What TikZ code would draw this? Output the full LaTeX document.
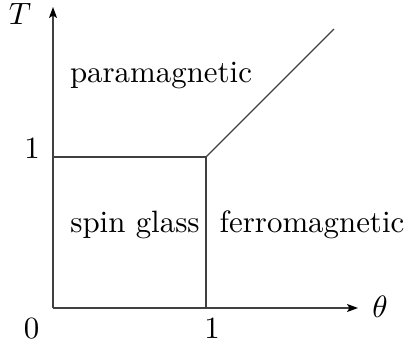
\documentclass[tikz,border=0pt]{standalone}
\usetikzlibrary{arrows.meta}
\begin{document}
\begin{tikzpicture}[x=1bp,y=-1bp,
  lbl/.style={anchor=base,scale=3.1,inner sep=0pt},
  ln/.style={line width=1.2bp,draw=black!75},
  axis/.style={ln,-{Stealth[length=11bp,width=8bp,inset=2.5bp,color=black]}}]
\useasboundingbox (0,0) rectangle (409,347);
\coordinate (O) at (53,308);
\coordinate (Ytop) at (53,7);
\coordinate (Xend) at (358,308);
\coordinate (C) at (206,157);
\coordinate (L) at (53,157);
\coordinate (B) at (206,308);
\coordinate (D) at (334,29);
\draw[axis] (O) -- (Ytop);
\draw[axis] (O) -- (Xend);
\draw[ln] (L) -- (C) -- (B);
\draw[ln] (C) -- (D);
\node[lbl] (T) at (20,24) {$T$};
\node[lbl] (th) at (380,317) {$\theta$};
\node[lbl] (zero) at (31.5,338) {0};
\node[lbl] (onex) at (212,338) {1};
\node[lbl] (oney) at (32,158) {1};
\node[lbl] (para) at (161,82) {paramagnetic};
\node[lbl] (sg) at (135,232) {spin glass};
\node[lbl] (ferro) at (312,232) {ferromagnetic};
\end{tikzpicture}
\end{document}
